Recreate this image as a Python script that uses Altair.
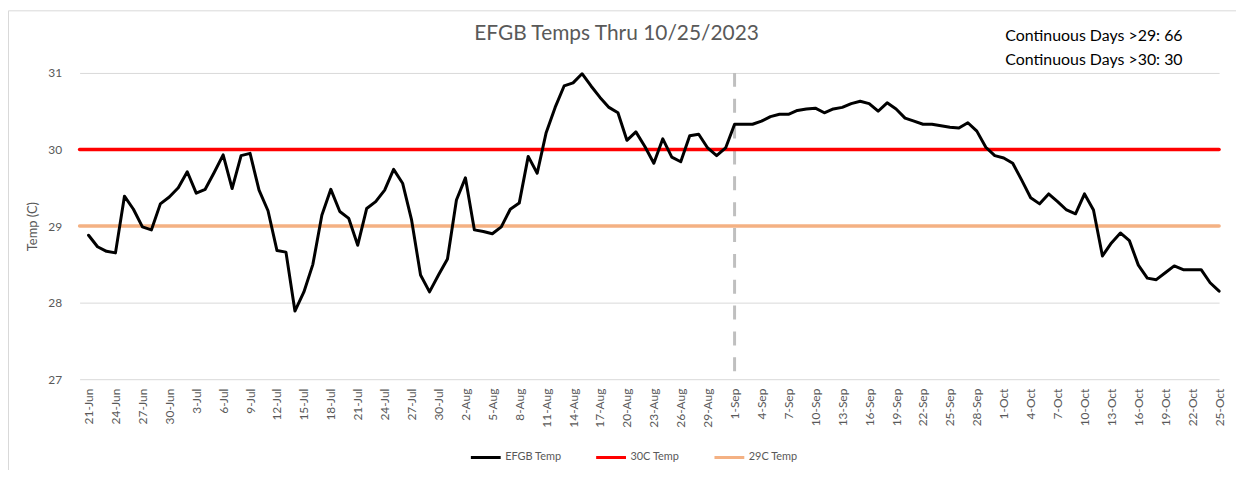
import altair as alt
import pandas as pd

title_text = "EFGB Temps Thru 10/25/2023"
annotation_lines = ["Continuous Days >29: 66", "Continuous Days >30: 30"]
series_names = ["EFGB Temp", "30C Temp", "29C Temp"]
series_colors = ["#000000", "#FF0000", "#F4B183"]

first_day = "2023-06-21"
temps = [
    28.88, 28.73, 28.67, 28.65, 29.39, 29.22, 28.99, 28.95, 29.29, 29.38,
    29.50, 29.71, 29.43, 29.48, 29.70, 29.93, 29.49, 29.92, 29.95, 29.47,
    29.20, 28.68, 28.66, 27.89, 28.14, 28.50, 29.14, 29.48, 29.19, 29.10,
    28.75, 29.23, 29.32, 29.47, 29.74, 29.56, 29.08, 28.36, 28.14, 28.36,
    28.57, 29.34, 29.63, 28.95, 28.93, 28.90, 28.99, 29.22, 29.30, 29.91,
    29.69, 30.22, 30.55, 30.83, 30.87, 30.99, 30.83, 30.68, 30.55, 30.48,
    30.12, 30.23, 30.04, 29.82, 30.14, 29.90, 29.84, 30.18, 30.20, 30.02,
    29.92, 30.02, 30.33, 30.33, 30.33, 30.37, 30.43, 30.46, 30.46, 30.51,
    30.53, 30.54, 30.48, 30.53, 30.55, 30.60, 30.63, 30.60, 30.50, 30.61,
    30.53, 30.41, 30.37, 30.33, 30.33, 30.31, 30.29, 30.28, 30.35, 30.24,
    30.03, 29.92, 29.89, 29.82, 29.60, 29.37, 29.29, 29.42, 29.32, 29.21,
    29.16, 29.42, 29.21, 28.61, 28.78, 28.91, 28.81, 28.49, 28.32, 28.30,
    28.39, 28.48, 28.43, 28.43, 28.43, 28.26, 28.15,
]
threshold_levels = [30, 29]
axis_start = "2023-06-20"
axis_end = "2023-10-25"
divider_day = "2023-09-01"
y_ticks = [27, 28, 29, 30, 31]

days = pd.date_range(first_day, periods=len(temps), freq="D")


def iso(d):
    return pd.Timestamp(d).strftime("%Y-%m-%dT00:00:00")


def dt(d):
    t = pd.Timestamp(d)
    return alt.DateTime(year=int(t.year), month=int(t.month), date=int(t.day))


temp_df = pd.DataFrame({"date": [iso(d) for d in days], "value": temps,
                        "series": series_names[0]})
thr_rows = []
for name, lvl in zip(series_names[1:], threshold_levels):
    for d in (axis_start, axis_end):
        thr_rows.append({"date": iso(d), "value": lvl, "series": name})
thr_df = pd.DataFrame(thr_rows)
div_df = pd.DataFrame({"date": [iso(divider_day)], "value": [27]})
one_df = pd.DataFrame({"k": [0]})
tick_values = [dt(d) for d in days[::3]]

W, H = 1146, 308
FONT = "Lato"
GREY = "#595959"

x_enc = alt.X(
    "date:T",
    scale=alt.Scale(domain=[dt(axis_start), dt(axis_end)]),
    axis=alt.Axis(values=tick_values, format="%-d-%b", labelAngle=270,
                  labelPadding=9, labelFontSize=12, labelColor=GREY,
                  labelFont=FONT, ticks=False, domain=False, grid=False,
                  labelOverlap=False, labelFlush=False, labelBound=False,
                  labelSeparation=0),
    title=None,
)
y_enc = alt.Y(
    "value:Q",
    scale=alt.Scale(domain=[27, 31], nice=False, zero=False),
    axis=alt.Axis(values=y_ticks, grid=True, gridColor="#D9D9D9", gridWidth=1,
                  domain=False, ticks=False, labelPadding=18, labelFontSize=12,
                  labelColor=GREY, labelFont=FONT, title="Temp (C)",
                  titleFont=FONT, titleFontSize=13, titleFontWeight="normal",
                  titleColor=GREY, titleAngle=270, titleX=-47, titleY=H / 2,
                  titleAlign="center", titleBaseline="middle"),
)
color_enc = alt.Color(
    "series:N",
    scale=alt.Scale(domain=series_names, range=series_colors),
    legend=alt.Legend(title=None, orient="none", legendX=392, legendY=370,
                      direction="horizontal", symbolType="stroke",
                      symbolStrokeWidth=3, symbolSize=900, labelFont=FONT,
                      labelFontSize=11, labelColor=GREY, columnPadding=28,
                      labelOffset=3, padding=0),
)

border = alt.Chart(one_df).mark_rect(fill=None, stroke="#D9D9D9", strokeWidth=1).encode(
    x=alt.value(-71.5), x2=alt.value(W + 60), y=alt.value(-62.5), y2=alt.value(H + 200)
)

divider = alt.Chart(div_df).mark_rule(color="#BFBFBF", strokeWidth=3,
                                       strokeDash=[14, 12]).encode(
    x=x_enc, y=alt.value(0), y2=alt.value(H)
)

thresholds = alt.Chart(thr_df).mark_line(strokeWidth=3.5, strokeCap="round").encode(
    x=x_enc, y=y_enc, color=color_enc, detail="series:N"
)

temp_line = alt.Chart(temp_df).mark_line(strokeWidth=3, strokeCap="round",
                                          strokeJoin="round").encode(
    x=x_enc, y=y_enc, color=color_enc
)

title = alt.Chart(one_df).mark_text(text=title_text, font=FONT, fontSize=21,
                                     color=GREY, align="center",
                                     baseline="middle").encode(
    x=alt.value(620 - 80), y=alt.value(33 - 72)
)
ann1 = alt.Chart(one_df).mark_text(text=annotation_lines[0], font=FONT, fontSize=16,
                                    color="#000000", align="left",
                                    baseline="middle").encode(
    x=alt.value(1011 - 80), y=alt.value(35 - 72)
)
ann2 = alt.Chart(one_df).mark_text(text=annotation_lines[1], font=FONT, fontSize=16,
                                    color="#000000", align="left",
                                    baseline="middle").encode(
    x=alt.value(1011 - 80), y=alt.value(59 - 72)
)

chart = alt.layer(border, divider, thresholds, temp_line, title, ann1, ann2).properties(
    width=W, height=H,
    padding={"left": 72, "top": 64, "right": 17, "bottom": 90},
    autosize=alt.AutoSizeParams(type="none"),
    background="white",
).configure_view(stroke=None)

chart.save("out.html", embed_options={"renderer": "svg", "actions": False})
